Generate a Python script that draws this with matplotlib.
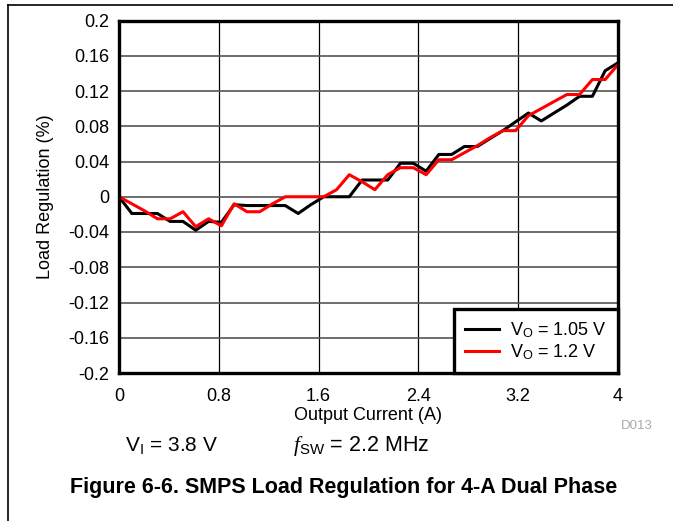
"""SMPS load regulation, 4-A dual phase (Figure 6-6 rebuild)."""
import matplotlib
matplotlib.use("Agg")
import matplotlib.pyplot as plt
from matplotlib.lines import Line2D

plt.rcParams["font.family"] = ["Liberation Sans", "DejaVu Sans"]
plt.rcParams["mathtext.fontset"] = "custom"
plt.rcParams["mathtext.rm"] = "Liberation Sans"
plt.rcParams["mathtext.it"] = "Liberation Serif:italic"

# output current (A), 40 samples 0..4
current = [0.0, 0.103, 0.205, 0.308, 0.41, 0.513, 0.615, 0.718, 0.821, 0.923,
           1.026, 1.128, 1.231, 1.333, 1.436, 1.538, 1.641, 1.744, 1.846, 1.949,
           2.051, 2.154, 2.256, 2.359, 2.462, 2.564, 2.667, 2.769, 2.872, 2.974,
           3.077, 3.179, 3.282, 3.385, 3.487, 3.59, 3.692, 3.795, 3.897, 4.0]

# load regulation (%)
reg_105 = [0.0, -0.019, -0.019, -0.019, -0.028, -0.028, -0.038, -0.028, -0.029, -0.009,
           -0.01, -0.01, -0.01, -0.01, -0.019, -0.009, 0.0, 0.0, 0.0, 0.019,
           0.019, 0.019, 0.038, 0.038, 0.029, 0.048, 0.048, 0.057, 0.057, 0.066,
           0.075, 0.085, 0.095, 0.086, 0.095, 0.104, 0.114, 0.114, 0.143, 0.152]
reg_12 = [0.0, -0.008, -0.016, -0.025, -0.025, -0.017, -0.034, -0.025, -0.033, -0.008,
          -0.017, -0.017, -0.008, 0.0, 0.0, 0.0, 0.0, 0.008, 0.025, 0.017,
          0.008, 0.025, 0.033, 0.033, 0.025, 0.042, 0.042, 0.05, 0.058, 0.067,
          0.075, 0.075, 0.092, 0.1, 0.108, 0.116, 0.116, 0.133, 0.133, 0.15]

XTICKS = [0, 0.8, 1.6, 2.4, 3.2, 4]
XTICKLABELS = ["0", "0.8", "1.6", "2.4", "3.2", "4"]
YTICKS = [0.2, 0.16, 0.12, 0.08, 0.04, 0, -0.04, -0.08, -0.12, -0.16, -0.2]
YTICKLABELS = ["0.2", "0.16", "0.12", "0.08", "0.04", "0", "-0.04", "-0.08",
               "-0.12", "-0.16", "-0.2"]

W, H = 673, 521
fig = plt.figure(figsize=(W / 100, H / 100), dpi=100)
ax = fig.add_axes([119 / W, 1 - 373 / H, (618 - 119) / W, (373 - 20.5) / H])

ax.plot(current, reg_105, color="black", lw=2.2, label=r"V$_\mathregular{O}$ = 1.05 V", zorder=3)
ax.plot(current, reg_12, color="#ff0000", lw=2.2, label=r"V$_\mathregular{O}$ = 1.2 V", zorder=4)

ax.set_xlim(0, 4)
ax.set_ylim(-0.2, 0.2)
ax.set_xticks(XTICKS)
ax.set_xticklabels(XTICKLABELS)
ax.set_yticks(YTICKS)
ax.set_yticklabels(YTICKLABELS)
ax.tick_params(length=0, labelsize=13)
ax.tick_params(axis="y", pad=7)
ax.tick_params(axis="x", pad=11)

ax.grid(axis="y", color="#555555", lw=1.2)
ax.grid(axis="x", color="black", lw=0.9)
for s in ax.spines.values():
    s.set_linewidth(2.4)
    s.set_zorder(5)

leg = ax.legend(loc="lower right", fontsize=13, frameon=True, fancybox=False,
                borderaxespad=0, handlelength=1.9, handletextpad=0.6,
                labelspacing=0.15, borderpad=0.6)
leg.get_frame().set_edgecolor("black")
leg.get_frame().set_linewidth(2.4)
leg.get_frame().set_alpha(1)
leg.set_zorder(6)

fig.text(368 / W, 1 - 416 / H, "Output Current (A)", ha="center", va="center", fontsize=13)
fig.text(46 / W, 1 - 197 / H, "Load Regulation (%)", ha="center", va="center",
         rotation=90, fontsize=13)
fig.text(637 / W, 1 - 426 / H, "D013", ha="center", va="center", fontsize=9.5, color="#aaaaaa")
fig.text(125 / W, 1 - 446 / H, r"V$_\mathregular{I}$ = 3.8 V", ha="left", va="center", fontsize=15)
fig.text(293 / W, 1 - 446 / H, r"$\mathit{f}$$_\mathregular{SW}$ = 2.2 MHz", ha="left",
         va="center", fontsize=15.5)
fig.text(343.5 / W, 1 - 488 / H, "Figure 6-6. SMPS Load Regulation for 4-A Dual Phase",
         ha="center", va="center", fontsize=15.5, fontweight="bold")

# page frame around the figure
fig.add_artist(Line2D([7.5 / W, 1.0], [1 - 4.5 / H, 1 - 4.5 / H], color="black", lw=1.2))
fig.add_artist(Line2D([7.5 / W, 7.5 / W], [0.0, 1 - 4.5 / H], color="black", lw=1.2))

fig.savefig("out.png", dpi=100, facecolor="white")
